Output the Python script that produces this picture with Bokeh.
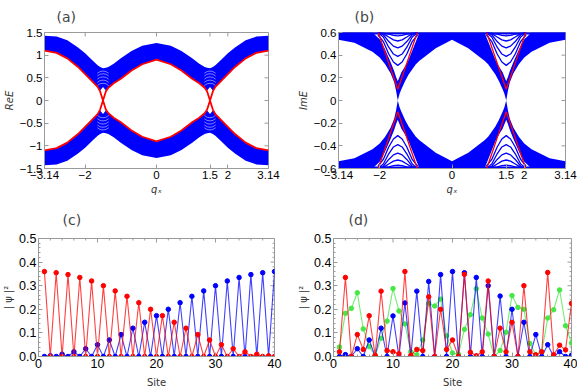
from bokeh.plotting import figure
from bokeh.models import FixedTicker, Range1d
from bokeh.layouts import row, column
from bokeh.embed import file_html
from bokeh.resources import INLINE

# ---------------- panel (a): Re E band structure ----------------
qa = [-3.14, -2.8, -2.5, -2.2, -2.0, -1.8, -1.65, -1.58, -1.5, -1.42, -1.35, -1.2, -1.0, -0.7, -0.4, 0.0,
      0.4, 0.7, 1.0, 1.2, 1.35, 1.42, 1.5, 1.58, 1.65, 1.8, 2.0, 2.2, 2.5, 2.8, 3.14]
a_outer = [1.43, 1.41, 1.33, 1.17, 1.04, 0.89, 0.78, 0.74, 0.71, 0.72, 0.74, 0.81, 0.93, 1.09, 1.21, 1.27,
           1.21, 1.09, 0.93, 0.81, 0.74, 0.72, 0.71, 0.74, 0.78, 0.89, 1.04, 1.17, 1.33, 1.41, 1.43]
a_edge = [1.10, 1.05, 0.93, 0.74, 0.58, 0.42, 0.30, 0.20, 0.0, -0.20, -0.28, -0.38, -0.48, -0.66, -0.80, -0.90,
          -0.80, -0.66, -0.48, -0.38, -0.28, -0.20, 0.0, 0.20, 0.30, 0.42, 0.58, 0.74, 0.93, 1.05, 1.10]
a_inner = [1.10, 1.05, 0.93, 0.74, 0.58, 0.42, 0.30, 0.22, 0.30, 0.22, 0.28, 0.38, 0.48, 0.66, 0.80, 0.90,
           0.80, 0.66, 0.48, 0.38, 0.28, 0.22, 0.30, 0.22, 0.30, 0.42, 0.58, 0.74, 0.93, 1.05, 1.10]
a_cross = [-1.5, 1.5]
arc_dq = [-0.16, -0.08, 0.0, 0.08, 0.16]
a_arcs = [[0.33, 0.37, 0.38, 0.37, 0.33],
          [0.40, 0.44, 0.45, 0.44, 0.40],
          [0.47, 0.51, 0.52, 0.51, 0.47],
          [0.54, 0.58, 0.59, 0.58, 0.54],
          [0.60, 0.64, 0.65, 0.64, 0.60]]

# ---------------- panel (b): Im E band structure ----------------
qb = [-3.14, -2.7, -2.2, -2.0, -1.85, -1.7, -1.6, -1.55, -1.5, -1.45, -1.4, -1.3, -1.2, -1.0, -0.9, -0.45, 0.0,
      0.45, 0.9, 1.0, 1.2, 1.3, 1.4, 1.45, 1.5, 1.55, 1.6, 1.7, 1.85, 2.0, 2.2, 2.7, 3.14]
b_inner = [0.535, 0.51, 0.43, 0.38, 0.32, 0.24, 0.16, 0.09, 0.0, 0.06, 0.10, 0.17, 0.23, 0.32, 0.35, 0.46, 0.535,
           0.46, 0.35, 0.32, 0.23, 0.17, 0.10, 0.06, 0.0, 0.09, 0.16, 0.24, 0.32, 0.38, 0.43, 0.51, 0.535]
b_dense = [0.6, 0.6, 0.6, 0.54, 0.45, 0.34, 0.26, 0.21, 0.17, 0.21, 0.25, 0.30, 0.36, 0.52, 0.6, 0.6, 0.6,
           0.6, 0.6, 0.52, 0.36, 0.30, 0.25, 0.21, 0.17, 0.21, 0.26, 0.34, 0.45, 0.54, 0.6, 0.6, 0.6]
v_dq = [-0.55, -0.4, -0.25, -0.12, 0.0, 0.12, 0.25, 0.4, 0.55]
b_vlines = [[0.60, 0.595, 0.585, 0.575, 0.57, 0.575, 0.585, 0.595, 0.60],
            [0.60, 0.59, 0.56, 0.535, 0.525, 0.535, 0.56, 0.59, 0.60],
            [0.60, 0.58, 0.52, 0.48, 0.465, 0.48, 0.52, 0.58, 0.60],
            [0.60, 0.56, 0.47, 0.41, 0.39, 0.41, 0.47, 0.56, 0.60],
            [0.58, 0.52, 0.41, 0.34, 0.31, 0.34, 0.41, 0.52, 0.58]]
b_vred = [0.61, 0.47, 0.33, 0.21, 0.10, 0.21, 0.33, 0.47, 0.61]

# ---------------- panels (c), (d): |psi|^2 per site ----------------
sites = list(range(1, 41))
c_red = [0.36, 0.0, 0.355, 0.0, 0.347, 0.0, 0.335, 0.0, 0.32, 0.0, 0.30, 0.0, 0.278, 0.0, 0.255, 0.0,
         0.228, 0.0, 0.20, 0.0, 0.173, 0.0, 0.145, 0.0, 0.12, 0.0, 0.093, 0.0, 0.07, 0.0, 0.05, 0.0,
         0.033, 0.0, 0.02, 0.0, 0.01, 0.0, 0.003, 0.0]
c_blue = [0.0, 0.003, 0.0, 0.01, 0.0, 0.02, 0.0, 0.033, 0.0, 0.05, 0.0, 0.07, 0.0, 0.093, 0.0, 0.12,
          0.0, 0.145, 0.0, 0.173, 0.0, 0.20, 0.0, 0.228, 0.0, 0.255, 0.0, 0.278, 0.0, 0.30, 0.0, 0.32,
          0.0, 0.335, 0.0, 0.347, 0.0, 0.355, 0.0, 0.36]
d_red = [0.02, 0.335, 0.0, 0.093, 0.03, 0.173, 0.005, 0.277, 0.025, 0.02, 0.012, 0.36, 0.005, 0.03, 0.025,
         0.253, 0.0, 0.20, 0.03, 0.07, 0.0, 0.348, 0.018, 0.003, 0.02, 0.32, 0.0, 0.12, 0.02, 0.145,
         0.0, 0.30, 0.02, 0.007, 0.02, 0.356, 0.007, 0.048, 0.028, 0.225]
d_blue = [0.0, 0.008, 0.0, 0.033, 0.0, 0.07, 0.0, 0.12, 0.0, 0.172, 0.0, 0.227, 0.0, 0.277, 0.0, 0.318,
          0.0, 0.347, 0.0, 0.36, 0.0, 0.355, 0.0, 0.335, 0.0, 0.30, 0.0, 0.256, 0.0, 0.20, 0.0, 0.145,
          0.0, 0.093, 0.0, 0.05, 0.0, 0.02, 0.0, 0.005]
d_green = [0.04, 0.183, 0.204, 0.27, 0.117, 0.042, 0.003, 0.077, 0.15, 0.288, 0.193, 0.138, 0.02, 0.007,
           0.07, 0.225, 0.214, 0.243, 0.088, 0.015, 0.01, 0.115, 0.177, 0.287, 0.163, 0.095, 0.0, 0.025,
           0.103, 0.258, 0.208, 0.20, 0.055, 0.007, 0.02, 0.163, 0.198, 0.282, 0.13, 0.057]

BLUE = "#0000ff"
RED = "#ff0000"
GREEN = "#44e844"
FRAME = "#9a9a9a"
TICKFONT = "Liberation Sans"


def neg(v):
    return [-x for x in v]


def mirror_ticks(p, xr, yr, fw, fh, xt, yt, xm, ym):
    """Inward tick marks on the top and right frame edges (no labels)."""
    dx = (xr[1] - xr[0]) / fw
    dy = (yr[1] - yr[0]) / fh
    for ticks, L in ((xt, 4), (xm, 2)):
        if ticks:
            p.segment(x0=ticks, y0=[yr[1]] * len(ticks), x1=ticks, y1=[yr[1] - L * dy] * len(ticks),
                      line_color=FRAME, line_width=1)
    for ticks, L in ((yt, 4), (ym, 2)):
        if ticks:
            p.segment(x0=[xr[1]] * len(ticks), y0=ticks, x1=[xr[1] - L * dx] * len(ticks), y1=ticks,
                      line_color=FRAME, line_width=1)


def make_fig(w, h, xr, yr, bl, br, bt, bb, xt, yt, xmin, ymin, xo, yo, fs, title, toff, tstand):
    p = figure(width=w, height=h, x_range=Range1d(*xr), y_range=Range1d(*yr),
               output_backend="svg", toolbar_location=None,
               min_border_left=bl, min_border_right=br, min_border_top=bt, min_border_bottom=bb)
    p.grid.visible = False
    p.outline_line_color = FRAME
    bottom = p.below[0]
    left = p.left[0]
    bottom.ticker = FixedTicker(ticks=xt, minor_ticks=xmin)
    left.ticker = FixedTicker(ticks=yt, minor_ticks=ymin)
    bottom.major_label_overrides = xo
    left.major_label_overrides = yo
    for ax in (bottom, left):
        ax.axis_line_color = FRAME
        ax.major_tick_line_color = FRAME
        ax.minor_tick_line_color = FRAME
        ax.major_tick_in = 4
        ax.major_tick_out = 0
        ax.minor_tick_in = 2
        ax.minor_tick_out = 0
        ax.major_label_text_font = TICKFONT
        ax.major_label_text_color = "black"
        ax.major_label_text_font_size = fs
        ax.major_label_standoff = 2
        ax.axis_label_standoff = 2
    fw = w - bl - br
    fh = h - bt - bb
    mirror_ticks(p, xr, yr, fw, fh, xt, yt, xmin, ymin)
    p.title.text = title
    p.title.align = "left"
    p.title.offset = toff
    p.title.text_font = "DejaVu Sans"
    p.title.text_font_size = "14px"
    p.title.text_font_style = "normal"
    p.title.vertical_align = "top"
    p.title.standoff = tstand
    return p, bottom, left


xq_o = {-3.14: "\u22123.14", -2: "\u22122", 0: "0", 1.5: "1.5", 2: "2", 3.14: "3.14"}
xq_t = [-3.14, -2, 0, 1.5, 2, 3.14]

# ---------- (a) ----------
pa, pa_x, pa_y = make_fig(288, 200, (-3.14, 3.14), (-1.5, 1.5), 42, 20, 31, 32,
                          xq_t, [-1.5, -1, -0.5, 0, 0.5, 1, 1.5], [], [], xq_o,
                          {-1.5: "\u22121.5", -1: "\u22121", -0.5: "\u22120.5", 0: "0", 0.5: "0.5", 1: "1", 1.5: "1.5"},
                          "11.5px", "(a)", 12, 11)
pa.varea(x=qa, y1=a_inner, y2=a_outer, fill_color=BLUE)
pa.varea(x=qa, y1=neg(a_inner), y2=neg(a_outer), fill_color=BLUE)
for qc in a_cross:
    xs = [qc + d for d in arc_dq]
    for arc in a_arcs:
        pa.line(xs, arc, line_color="white", line_width=0.7, line_alpha=0.7)
        pa.line(xs, neg(arc), line_color="white", line_width=0.7, line_alpha=0.7)
pa.line(qa, a_edge, line_color=RED, line_width=1.8)
pa.line(qa, neg(a_edge), line_color=RED, line_width=1.8)
pa_x.axis_label = "q\u2093"
pa_y.axis_label = "ReE"

# ---------- (b) ----------
pb, pb_x, pb_y = make_fig(289, 200, (-3.14, 3.14), (-0.6, 0.6), 50, 12, 32, 31,
                          xq_t, [-0.6, -0.4, -0.2, 0, 0.2, 0.4, 0.6], [], [], xq_o,
                          {-0.6: "\u22120.6", -0.4: "\u22120.4", -0.2: "\u22120.2", 0: "0", 0.2: "0.2", 0.4: "0.4",
                           0.6: "0.6"},
                          "11.5px", "(b)", 16, 12)
pb.varea(x=qb, y1=b_inner, y2=b_dense, fill_color=BLUE)
pb.varea(x=qb, y1=neg(b_inner), y2=neg(b_dense), fill_color=BLUE)
pb.line([-3.14, 3.14], [0.595, 0.595], line_color=BLUE, line_width=3)
pb.line([-3.14, 3.14], [-0.595, -0.595], line_color=BLUE, line_width=3)
for qc in a_cross:
    xs = [qc + d for d in v_dq]
    for vl in b_vlines:
        pb.line(xs, vl, line_color=BLUE, line_width=1.3)
        pb.line(xs, neg(vl), line_color=BLUE, line_width=1.3)
    pb.line(xs, b_vred, line_color=RED, line_width=1.3)
    pb.line(xs, neg(b_vred), line_color=RED, line_width=1.3)
pb_x.axis_label = "q\u2093"
pb_y.axis_label = "ImE"

# ---------- (c) ----------
site_t = [0, 10, 20, 30, 40]
site_m = [2, 4, 6, 8, 12, 14, 16, 18, 22, 24, 26, 28, 32, 34, 36, 38]
psi_t = [0, 0.1, 0.2, 0.3, 0.4, 0.5]
psi_m = [0.02, 0.04, 0.06, 0.08, 0.12, 0.14, 0.16, 0.18, 0.22, 0.24, 0.26, 0.28, 0.32, 0.34, 0.36, 0.38,
         0.42, 0.44, 0.46, 0.48]
psi_o = {0: "0.0", 0.1: "0.1", 0.2: "0.2", 0.3: "0.3", 0.4: "0.4", 0.5: "0.5"}
site_o = {0: "0", 10: "10", 20: "20", 30: "30", 40: "40"}

pc, pc_x, pc_y = make_fig(288, 190, (0, 40), (0, 0.5), 36, 14, 38, 34,
                          site_t, psi_t, site_m, psi_m, site_o, psi_o, "12.5px", "(c)", 24, 18)
for ys, col in ((c_blue, BLUE), (c_red, RED)):
    pc.line(sites, ys, line_color=col, line_width=1.1, line_alpha=0.75)
    pc.scatter(sites, ys, size=4.5, fill_color=col, line_color=col)
pc_x.axis_label = "Site"
pc_y.axis_label = "| \u03c8 |\u00b2"

# ---------- (d) ----------
pd_, pd_x, pd_y = make_fig(289, 190, (0, 40), (0, 0.5), 45, 6, 38, 34,
                           site_t, psi_t, site_m, psi_m, site_o, psi_o, "12.5px", "(d)", 15, 18)
for ys, col in ((d_green, GREEN), (d_blue, BLUE), (d_red, RED)):
    pd_.line(sites, ys, line_color=col, line_width=1.1, line_alpha=0.75)
    pd_.scatter(sites, ys, size=4.5, fill_color=col, line_color=col)
pd_x.axis_label = "Site"
pd_y.axis_label = "| \u03c8 |\u00b2"

for ax in (pa_x, pa_y, pb_x, pb_y):
    ax.axis_label_text_font_style = "italic"
for ax in (pc_x, pc_y, pd_x, pd_y):
    ax.axis_label_text_font_style = "normal"
for ax in (pc_x, pd_x):
    ax.axis_label_standoff = 6
for ax in (pa_x, pa_y, pb_x, pb_y, pc_x, pc_y, pd_x, pd_y):
    ax.axis_label_text_font_size = "10px"
    ax.axis_label_text_font = "DejaVu Sans"
    ax.axis_label_text_color = "#333333"

layout = column(row(pa, pb), row(pc, pd_))
open("out.html", "w").write(file_html(layout, INLINE))
